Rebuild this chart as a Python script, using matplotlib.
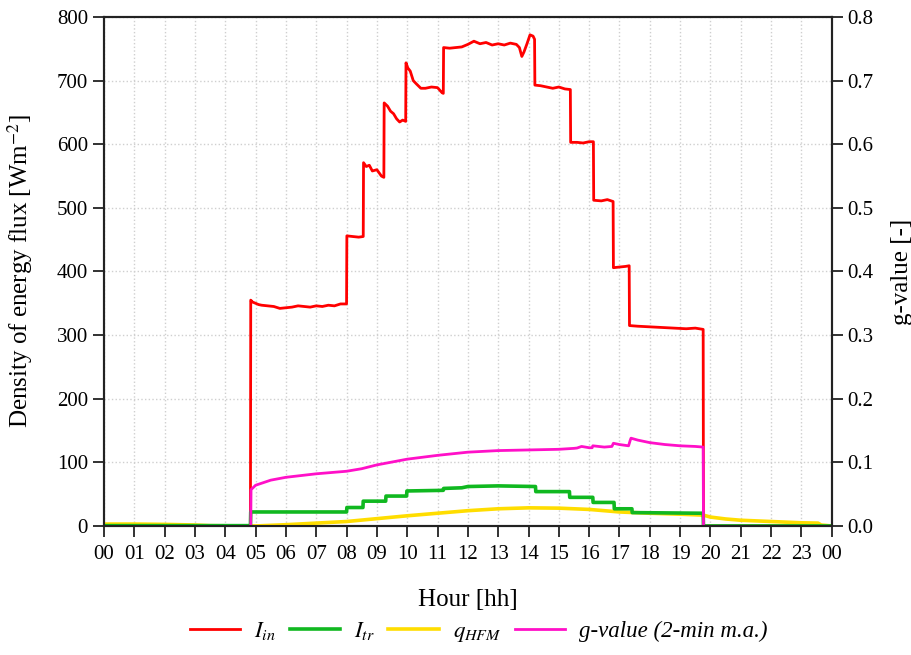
import numpy as np
import matplotlib.pyplot as plt

# ---------- data (hours, W/m2 or -) ----------
red_t = [0, 4.83, 4.84, 4.9, 5.0, 5.1, 5.2, 5.4, 5.6, 5.8, 6.0, 6.2, 6.4, 6.6, 6.8, 7.0, 7.2,
         7.4, 7.6, 7.8, 8.0, 8.01, 8.2, 8.4, 8.55, 8.56, 8.65, 8.75, 8.85, 9.0, 9.15, 9.23,
         9.24, 9.35, 9.45, 9.55, 9.65, 9.75, 9.85, 9.95, 9.96, 10.02, 10.1, 10.2, 10.3, 10.45,
         10.6, 10.8, 11.0, 11.15, 11.19, 11.2, 11.4, 11.6, 11.8, 12.0, 12.2, 12.4, 12.6, 12.8,
         13.0, 13.2, 13.4, 13.6, 13.7, 13.78, 13.85, 13.95, 14.05, 14.15, 14.2, 14.21, 14.4,
         14.6, 14.8, 15.0, 15.2, 15.38, 15.39, 15.6, 15.8, 16.0, 16.14, 16.15, 16.4, 16.6,
         16.79, 16.8, 17.0, 17.2, 17.32, 17.33, 17.6, 18.0, 18.4, 18.8, 19.2, 19.5, 19.76,
         19.77, 24]
red_v = [0, 0, 355, 352, 350, 348, 347, 346, 345, 342, 343, 344, 346, 345, 344, 346, 345,
         347, 346, 349, 349, 456, 455, 454, 455, 571, 565, 567, 558, 560, 550, 548,
         665, 660, 652, 648, 640, 635, 638, 636, 728, 720, 715, 700, 695, 688,
         688, 690, 689, 681, 680, 752, 751, 752, 753, 757, 762, 758, 760, 756,
         758, 756, 759, 757, 752, 738, 745, 758, 772, 770, 765, 693, 692,
         690, 688, 690, 687, 686, 603, 603, 602, 604, 604, 512, 511, 513,
         510, 406, 407, 408, 409, 315, 314, 313, 312, 311, 310, 311, 309,
         0, 0]

green_t = [0, 4.83, 4.84, 8.0, 8.01, 8.54, 8.55, 9.29, 9.3, 9.98, 9.99, 11.19, 11.2, 11.8,
           12.0, 13.0, 14.23, 14.24, 15.35, 15.36, 16.12, 16.13, 16.82, 16.83, 17.41, 17.42,
           19.76, 19.77, 24]
green_v = [0.5, 0.5, 22, 22, 29, 29, 39, 39, 47, 47, 55, 56, 59, 60,
           62, 63, 62, 54, 54, 45, 45, 37, 37, 27, 27, 21,
           20, 0, 0]

yellow_t = [0, 1, 2, 3, 3.5, 4.0, 4.84, 5.0, 5.5, 6, 7, 8, 9, 10, 11, 12, 13, 14, 15, 16,
            17, 18, 19, 19.77, 20, 20.5, 21, 22, 23, 23.55, 23.65, 24]
yellow_v = [3, 3, 2.5, 1.5, 0.5, 0.3, 0, 0, 1, 2, 4.5, 7, 11.5, 16, 20, 24, 27, 28.5, 28, 26,
            22, 20, 18.5, 17, 14, 11, 9, 7, 5, 4.5, 1.5, 0]

pink_t = [4.84, 4.85, 5.0, 5.5, 6, 7, 8, 8.5, 9, 10, 11, 12, 13, 14, 15, 15.5, 15.6, 15.75,
          16.0, 16.1, 16.12, 16.5, 16.75, 16.8, 17.0, 17.3, 17.35, 17.38, 17.6, 18.0, 18.5,
          19.0, 19.5, 19.76, 19.77]
pink_v = [0, 0.057, 0.064, 0.072, 0.0765, 0.082, 0.086, 0.09, 0.096, 0.105, 0.111, 0.116,
          0.1185, 0.1195, 0.1205, 0.122, 0.1225, 0.125, 0.123, 0.123, 0.126, 0.124, 0.125,
          0.13, 0.128, 0.126, 0.134, 0.138, 0.135, 0.131, 0.128, 0.126, 0.125, 0.124, 0]

hour_labels = [f'{h % 24:02d}' for h in range(25)]

# ---------- plot ----------
plt.rcParams['font.family'] = ['Liberation Serif', 'DejaVu Serif']
plt.rcParams['mathtext.fontset'] = 'stix'

fig = plt.figure(figsize=(9.12, 6.55), dpi=100)
ax = fig.add_axes([0.114, 0.197, 0.798, 0.777])
ax2 = ax.twinx()

lw = 2.0
l1, = ax.plot(red_t, red_v, color='#ff0000', lw=lw, label=r'$I_{in}$')
l2, = ax.plot(green_t, green_v, color='#10b820', lw=lw + 0.6, label=r'$I_{tr}$', zorder=4)
l3, = ax.plot(yellow_t, yellow_v, color='#ffdd00', lw=lw + 0.6, label=r'$q_{HFM}$', zorder=3)
l4, = ax2.plot(pink_t, pink_v, color='#ff10c8', lw=lw, label='g-value (2-min m.a.)')

ax.set_xlim(0, 24)
ax.set_ylim(0, 800)
ax2.set_ylim(0, 0.8)
ax.set_xticks(range(25))
ax.set_xticklabels(hour_labels)
ax.set_yticks(range(0, 801, 100))
ax2.set_yticks(np.arange(0, 0.81, 0.1))
ax2.set_yticklabels([f'{v:.1f}' for v in np.arange(0, 0.81, 0.1)])

ax.grid(True, color='#cfcfcf', ls=':', lw=1.0)
for a in (ax, ax2):
    a.tick_params(direction='out', length=8, width=1.3, labelsize=15, color='#222222')
    for s in a.spines.values():
        s.set_linewidth(1.5)
        s.set_color('#222222')
ax.tick_params(axis='x', pad=6)

ax.set_xlabel('Hour [hh]', fontsize=18, labelpad=18)
ax.set_ylabel(r'Density of energy flux [Wm$^{-2}$]', fontsize=18, labelpad=16)
ax2.set_ylabel('g-value [-]', fontsize=18, labelpad=12)

leg = fig.legend(handles=[l1, l2, l3, l4], loc='center', bbox_to_anchor=(0.525, 0.035),
                 ncol=4, frameon=False, fontsize=16.5, handlelength=2.2, columnspacing=0.6,
                 handletextpad=0.6)
leg.get_texts()[3].set_fontstyle('italic')

fig.savefig('out.png', dpi=100)
